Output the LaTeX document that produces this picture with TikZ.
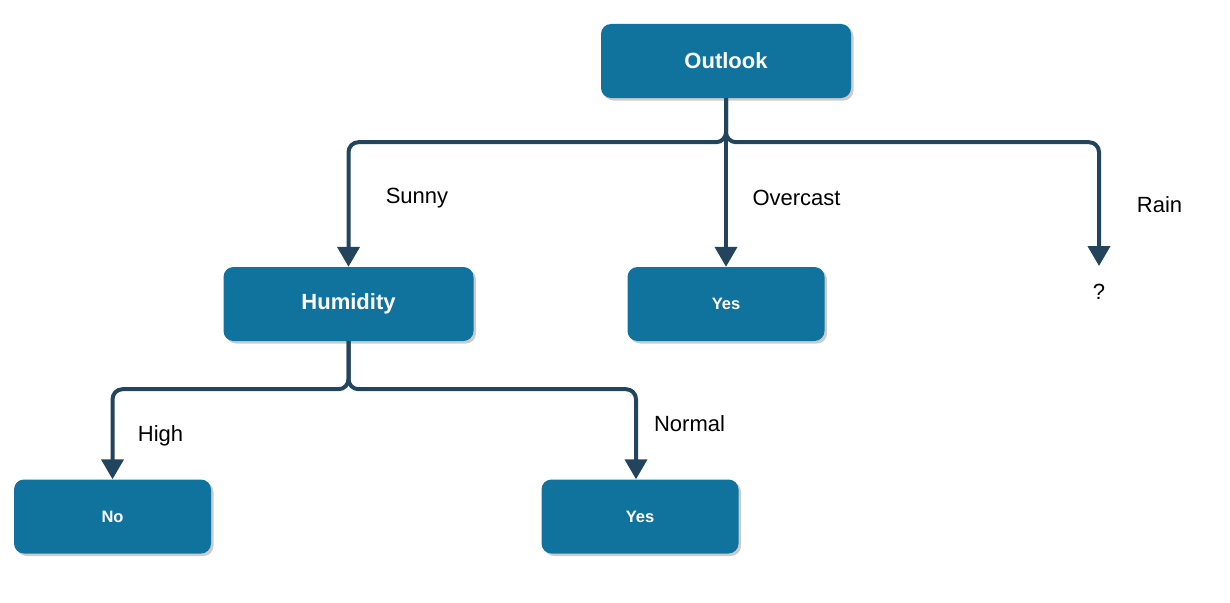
\documentclass[tikz,border=0pt]{standalone}
\usepackage{fontspec}
\setmainfont{Liberation Sans}
\usetikzlibrary{arrows.meta,shadows}

\definecolor{boxblue}{HTML}{10739E}
\definecolor{linkblue}{HTML}{23445D}

\begin{document}
\begin{tikzpicture}[x=1pt, y=-1pt, line join=round,
    treebox/.style={rectangle, rounded corners=10pt, fill=boxblue, text=white,
      minimum height=74pt, inner sep=0pt,
      drop shadow={shadow xshift=2.5pt, shadow yshift=-2.5pt, opacity=0.4}},
    bigbox/.style={treebox, minimum width=250pt,
      font=\fontsize{22}{26}\selectfont\bfseries},
    smallbox/.style={treebox, minimum width=197pt,
      font=\fontsize{16.5}{20}\selectfont\bfseries},
    branch/.style={draw=linkblue, line width=4pt, rounded corners=10pt,
      -{Triangle[width=22pt,length=20pt]}},
    edgelabel/.style={font=\fontsize{22}{26}\selectfont, inner sep=0pt}]

  %% ==== 结点 ====
  \node[bigbox]   (outlook)  at (726,61)  {Outlook};
  \node[bigbox]   (humidity) at (348.5,304) {Humidity};
  \node[smallbox] (yesover)  at (726,304) {Yes};
  \node[smallbox] (no)       at (112.5,516.5) {No};
  \node[smallbox] (yesnorm)  at (640,516.5) {Yes};
  \node[edgelabel] (unknown) at (1099,292) {?};
  \coordinate (rainend) at (1099,266);

  %% ==== 分支 ====
  \draw[branch] (outlook.south) -- ++(0,44) -| (humidity.north);
  \draw[branch] (outlook.south) -- (yesover.north);
  \draw[branch] (outlook.south) -- ++(0,44) -| (rainend);
  \draw[branch] (humidity.south) -- ++(0,48) -| (no.north);
  \draw[branch] (humidity.south) -- ++(0,48) -| ([xshift=-4pt]yesnorm.north);

  %% ==== 标签 ====
  \node[edgelabel] (sunny)    at (417,198)   {Sunny};
  \node[edgelabel] (overcast) at (796.5,198) {Overcast};
  \node[edgelabel] (rain)     at (1159.5,204.5) {Rain};
  \node[edgelabel] (high)     at (160.5,436) {High};
  \node[edgelabel] (normal)   at (689.5,424) {Normal};

  % 画布
  \pgfresetboundingbox
  \path[use as bounding box] (0,0) rectangle (1230,602);
\end{tikzpicture}
\end{document}
